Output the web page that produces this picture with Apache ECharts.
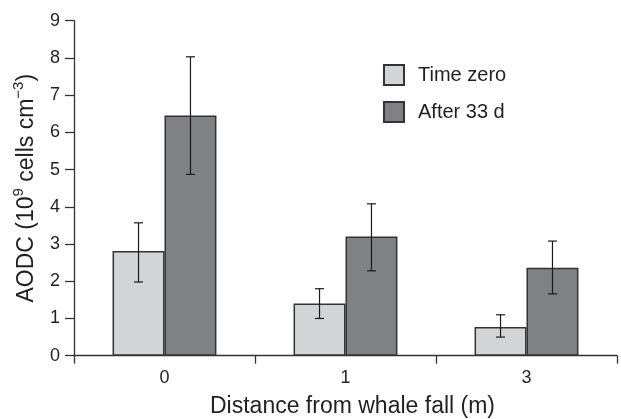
<!DOCTYPE html>
<html>
<head>
<meta charset="utf-8">
<script src="https://cdn.jsdelivr.net/npm/echarts@6/dist/echarts.min.js"></script>
<style>html,body{margin:0;padding:0;background:#fff;}#c{width:621px;height:419px;}</style>
</head>
<body>
<div id="c"></div>
<script>
const categories = ['0', '1', '3'];
const timeZero = [2.81, 1.40, 0.77];
const timeZeroLow = [1.98, 1.00, 0.50];
const timeZeroHigh = [3.57, 1.80, 1.10];
const after33 = [6.45, 3.20, 2.36];
const after33Low = [4.87, 2.28, 1.66];
const after33High = [8.03, 4.08, 3.08];
const yTicks = [0, 1, 2, 3, 4, 5, 6, 7, 8, 9];

const FONT = 'Liberation Sans';
const TXT = '#231f20';
const BAR_FRAC = 0.287;

function errData(low, high) {
  return categories.map((c, i) => [i, low[i], high[i]]);
}
function errRender(side) {
  return function (params, api) {
    const band = api.size([1, 0])[0];
    const off = side * band * BAR_FRAC / 2;
    const lo = api.coord([api.value(0), api.value(1)]);
    const hi = api.coord([api.value(0), api.value(2)]);
    const x = lo[0] + off;
    const cw = 4.5;
    const st = { stroke: '#1a1a1a', lineWidth: 1.2 };
    return {
      type: 'group',
      children: [
        { type: 'line', shape: { x1: x, y1: lo[1], x2: x, y2: hi[1] }, style: st },
        { type: 'line', shape: { x1: x - cw, y1: lo[1], x2: x + cw, y2: lo[1] }, style: st },
        { type: 'line', shape: { x1: x - cw, y1: hi[1], x2: x + cw, y2: hi[1] }, style: st }
      ]
    };
  };
}

const chart = echarts.init(document.getElementById('c'), null, { renderer: 'canvas' });
chart.setOption({
  animation: false,
  backgroundColor: '#fff',
  textStyle: { fontFamily: FONT, color: TXT },
  grid: { left: 74, right: 4, top: 20.7, bottom: 63.3, containLabel: false, outerBoundsMode: 'none' },
  legend: {
    orient: 'vertical',
    left: 383,
    top: 64,
    itemWidth: 20,
    itemHeight: 20,
    itemGap: 15,
    padding: 0,
    selectedMode: false,
    icon: 'rect',
    data: ['Time zero', 'After 33 d'],
    textStyle: { fontFamily: FONT, fontSize: 20, color: TXT, padding: [0, 0, 0, 9] }
  },
  xAxis: {
    type: 'category',
    data: categories,
    name: 'Distance from whale fall (m)',
    nameLocation: 'middle',
    nameGap: 39,
    nameTextStyle: { fontFamily: FONT, fontSize: 23, color: TXT, padding: [0, 0, 0, 14] },
    axisLine: { lineStyle: { color: '#333', width: 1.3 } },
    axisTick: { show: true, length: 8, lineStyle: { color: '#333', width: 1.3 } },
    axisLabel: { fontFamily: FONT, fontSize: 18, color: TXT, margin: 13 }
  },
  yAxis: {
    type: 'value',
    min: 0,
    max: 9,
    interval: 1,
    name: '{a|AODC (10}{s|9}{a| cells cm}{s|−3}{a|)}',
    nameLocation: 'middle',
    nameRotate: 90,
    nameGap: 36,
    nameTextStyle: {
      fontFamily: FONT, color: TXT,
      rich: {
        a: { fontFamily: FONT, fontSize: 23, color: TXT, lineHeight: 27, verticalAlign: 'bottom' },
        s: { fontFamily: FONT, fontSize: 15, color: TXT, lineHeight: 27, verticalAlign: 'top' }
      }
    },
    splitLine: { show: false },
    axisLine: { show: true, lineStyle: { color: '#333', width: 1.3 } },
    axisTick: { show: true, length: 9, lineStyle: { color: '#333', width: 1.3 } },
    axisLabel: {
      fontFamily: FONT, fontSize: 18, color: TXT, margin: 14,
      formatter: v => yTicks.indexOf(v) >= 0 ? String(v) : ''
    }
  },
  series: [
    {
      name: 'Time zero', type: 'bar', data: timeZero,
      barWidth: (BAR_FRAC * 100) + '%', barGap: '0%',
      itemStyle: { color: '#d3d4d6', borderColor: '#333', borderWidth: 1.5 }
    },
    {
      name: 'After 33 d', type: 'bar', data: after33,
      barWidth: (BAR_FRAC * 100) + '%', barGap: '0%',
      itemStyle: { color: '#808184', borderColor: '#333', borderWidth: 1.5 }
    },
    {
      type: 'custom', name: 'err0', data: errData(timeZeroLow, timeZeroHigh),
      renderItem: errRender(-1), encode: { x: 0, y: [1, 2] }, z: 5, silent: true
    },
    {
      type: 'custom', name: 'err1', data: errData(after33Low, after33High),
      renderItem: errRender(1), encode: { x: 0, y: [1, 2] }, z: 5, silent: true
    }
  ]
});
</script>
</body>
</html>
